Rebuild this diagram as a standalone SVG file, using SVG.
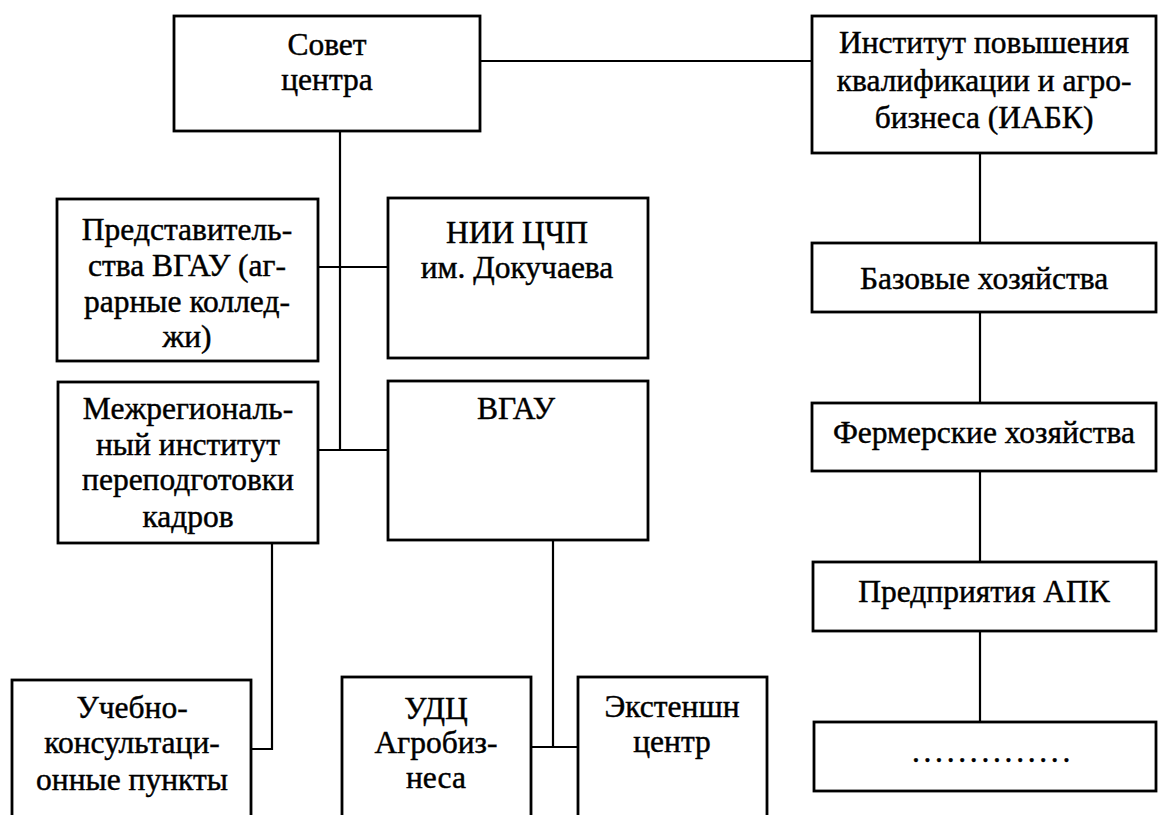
<svg xmlns="http://www.w3.org/2000/svg" width="1159" height="815" viewBox="0 0 1159 815">
<style>
.box{fill:#fff;stroke:#000;stroke-width:2.8}
.ln{fill:none;stroke:#000;stroke-width:2.2}
text{font-family:"Liberation Serif","Times New Roman",serif;font-size:31.5px;fill:#000;stroke:#000;stroke-width:0.45;text-anchor:middle}
</style>
<rect width="1159" height="815" fill="#fff"/>
<g id="connectors">
<path class="ln" d="M480 61H812"/>
<path class="ln" d="M340 131V450"/>
<path class="ln" d="M318 267H388"/>
<path class="ln" d="M318 450H388"/>
<path class="ln" d="M272 543V749H251"/>
<path class="ln" d="M553 540V747"/>
<path class="ln" d="M531 747H578"/>
<path class="ln" d="M980 153V243"/>
<path class="ln" d="M980 312V403"/>
<path class="ln" d="M980 471V562"/>
<path class="ln" d="M980 631V722"/>
</g>
<g id="sovet">
<rect class="box" x="174" y="16" width="306" height="115"/>
<text x="327" y="55">Совет</text>
<text x="327" y="90">центра</text>
</g>
<g id="iabk">
<rect class="box" x="812" y="16" width="344" height="137"/>
<text x="984" y="53">Институт повышения</text>
<text x="984" y="91">квалификации и агро-</text>
<text x="984" y="128">бизнеса (ИАБК)</text>
</g>
<g id="predst">
<rect class="box" x="57" y="199" width="261" height="162"/>
<text x="187" y="240">Представитель-</text>
<text x="187" y="276">ства ВГАУ (аг-</text>
<text x="187" y="312">рарные коллед-</text>
<text x="187" y="347">жи)</text>
</g>
<g id="nii">
<rect class="box" x="388" y="198" width="260" height="160"/>
<text x="517" y="243">НИИ ЦЧП</text>
<text x="517" y="278">им. Докучаева</text>
</g>
<g id="mezhreg">
<rect class="box" x="58" y="382" width="260" height="161"/>
<text x="188" y="419">Межрегиональ-</text>
<text x="188" y="455">ный институт</text>
<text x="188" y="490">переподготовки</text>
<text x="188" y="527">кадров</text>
</g>
<g id="vgau">
<rect class="box" x="388" y="381" width="260" height="159"/>
<text x="516" y="419">ВГАУ</text>
</g>
<g id="bazovye">
<rect class="box" x="812" y="243" width="344" height="69"/>
<text x="984" y="289">Базовые хозяйства</text>
</g>
<g id="fermer">
<rect class="box" x="812" y="403" width="344" height="68"/>
<text x="984" y="443">Фермерские хозяйства</text>
</g>
<g id="apk">
<rect class="box" x="813" y="562" width="343" height="69"/>
<text x="984" y="602">Предприятия АПК</text>
</g>
<g id="dots">
<rect class="box" x="814" y="722" width="342" height="69"/>
<text x="993" y="762" style="letter-spacing:3.7px">..............</text>
</g>
<g id="uchebno">
<rect class="box" x="12" y="680" width="239" height="150"/>
<text x="132" y="718">Учебно-</text>
<text x="132" y="753">консультаци-</text>
<text x="132" y="790">онные пункты</text>
</g>
<g id="udc">
<rect class="box" x="342" y="677" width="189" height="150"/>
<text x="436" y="719">УДЦ</text>
<text x="436" y="753">Агробиз-</text>
<text x="436" y="788">неса</text>
</g>
<g id="extension">
<rect class="box" x="578" y="677" width="189" height="150"/>
<text x="672" y="717">Экстеншн</text>
<text x="672" y="752">центр</text>
</g>
</svg>
